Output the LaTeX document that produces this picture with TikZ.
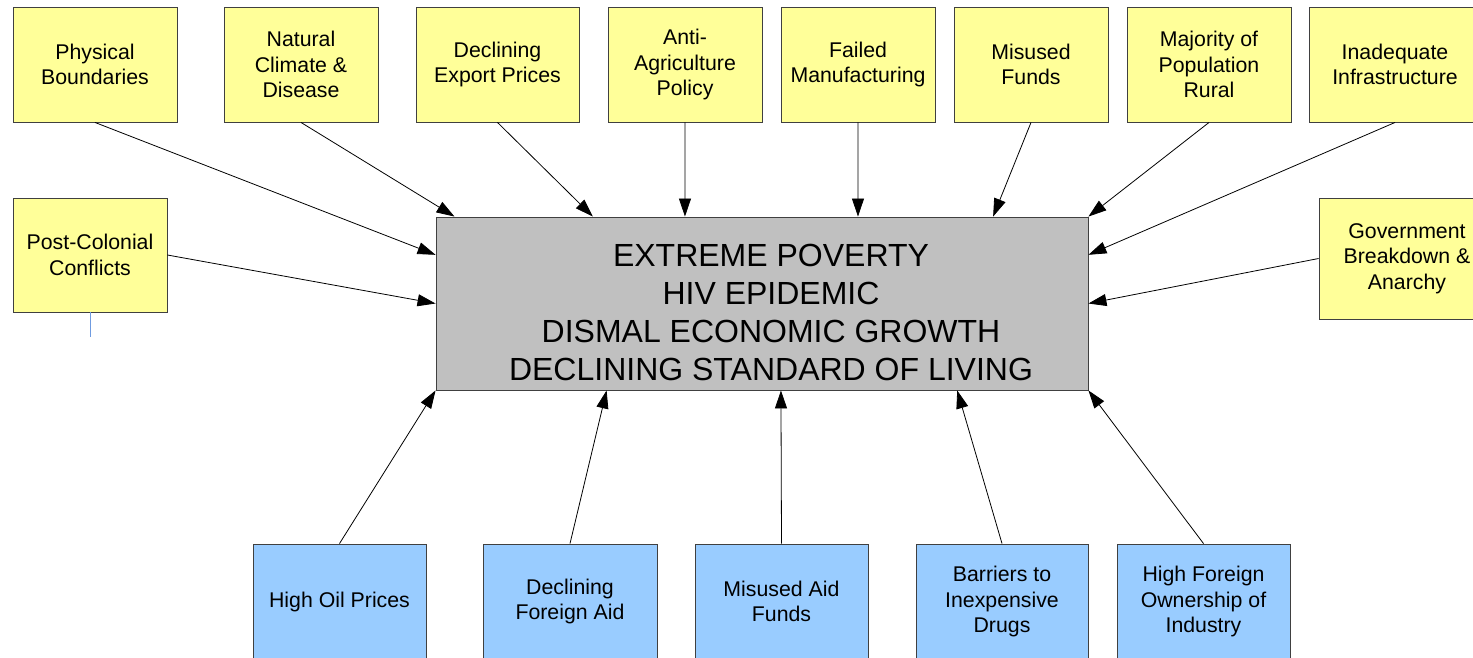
\documentclass[tikz,border=0pt]{standalone}
\usepackage{fontspec}
\setmainfont{Liberation Sans}
\usepackage{xcolor}
\usetikzlibrary{arrows.meta, positioning, calc}

\definecolor{causeyellow}{HTML}{FFFF99}
\definecolor{aidblue}{HTML}{99CCFF}
\definecolor{coregray}{HTML}{C0C0C0}
\definecolor{strayblue}{HTML}{6F9BE0}

\begin{document}
\begin{tikzpicture}[x=1pt, y=-1pt,
    box/.style={draw=black!75, line width=0.9pt, align=center, inner sep=0pt,
        font=\fontsize{21.3}{25.7}\selectfont},
    cause/.style={box, fill=causeyellow, minimum height=115pt},
    aid/.style={box, fill=aidblue, minimum height=115pt},
    core/.style={draw=black!75, line width=0.9pt, fill=coregray,
        inner sep=0pt, minimum width=652pt, minimum height=173pt},
    coretxt/.style={align=center, inner sep=0pt, font=\fontsize{32}{38}\selectfont},
    link/.style={-{Triangle[length=18pt, width=12pt]}, line width=0.8pt, black}]
    \useasboundingbox (0,0) rectangle (1473,657);
    \clip (0,0) rectangle (1473,657);
    % central problem
    \node[core] (core) at (762,303.5) {};
    \node[coretxt] (coretext) at (771,312) {EXTREME POVERTY\\HIV EPIDEMIC\\DISMAL ECONOMIC GROWTH\\DECLINING STANDARD OF LIVING};
    % top row of causes
    \node[cause, minimum width=164pt] (phys) at (95,64.5) {Physical\\Boundaries};
    \node[cause, minimum width=154pt] (clim) at (301,64.5) {Natural\\Climate \&\\Disease};
    \node[cause, minimum width=163pt] (expo) at (497.5,64.5) {Declining\\Export Prices};
    \node[cause, minimum width=154pt] (agri) at (685,64.5) {Anti-\\Agriculture\\Policy};
    \node[cause, minimum width=154pt] (manu) at (858,64.5) {Failed\\Manufacturing};
    \node[cause, minimum width=154pt] (fund) at (1031,64.5) {Misused\\Funds};
    \node[cause, minimum width=164pt] (rural) at (1209,64.5) {Majority of\\Population\\Rural};
    \node[cause, minimum width=172pt] (infra) at (1395,64.5) {Inadequate\\Infrastructure};
    % side causes
    \node[cause, minimum width=154pt, minimum height=114pt] (post) at (90,255) {Post-Colonial\\Conflicts};
    \node[cause, minimum width=176pt, minimum height=121pt] (gov) at (1407,258.5) {Government\\Breakdown \&\\Anarchy};
    % bottom row
    \node[aid, minimum width=173pt] (oil) at (339.5,601.5) {High Oil Prices};
    \node[aid, minimum width=174pt] (faid) at (570,601.5) {Declining\\Foreign Aid};
    \node[aid, minimum width=173pt] (maid) at (781.5,601.5) {Misused Aid\\Funds};
    \node[aid, minimum width=172pt] (drug) at (1002,601.5) {Barriers to\\Inexpensive\\Drugs};
    \node[aid, minimum width=173pt] (own) at (1203.5,601.5) {High Foreign\\Ownership of\\Industry};

    \draw[link] (phys.south) -- ($(core.north west)!0.22!(core.south west)$);
    \draw[link] (clim.south) -- ($(core.north west)!0.029!(core.north east)$);
    \draw[link] (expo.south) -- ($(core.north west)!0.241!(core.north east)$);
    \draw[link] (agri.south) -- ($(core.north west)!0.382!(core.north east)$);
    \draw[link] (manu.south) -- ($(core.north west)!0.647!(core.north east)$);
    \draw[link] (fund.south) -- ($(core.north west)!0.854!(core.north east)$);
    \draw[link] (rural.south) -- (core.north east);
    \draw[link] (infra.south) -- ($(core.north east)!0.22!(core.south east)$);
    \draw[link] (post.east) -- (core.west);
    \draw[link] (gov.west) -- (core.east);
    \draw[link] (oil.north) -- (core.south west);
    \draw[link] (faid.north) -- ($(core.south west)!0.262!(core.south east)$);
    \draw[link] (maid.north) -- ($(core.south west)!0.529!(core.south east)$);
    \draw[link] (drug.north) -- ($(core.south west)!0.799!(core.south east)$);
    \draw[link] (own.north) -- (core.south east);

    % stray line below post-colonial box
    \coordinate (stray) at (90,337);
    \draw[strayblue, line width=0.9pt] (post.south) -- (stray);
\end{tikzpicture}
\end{document}
